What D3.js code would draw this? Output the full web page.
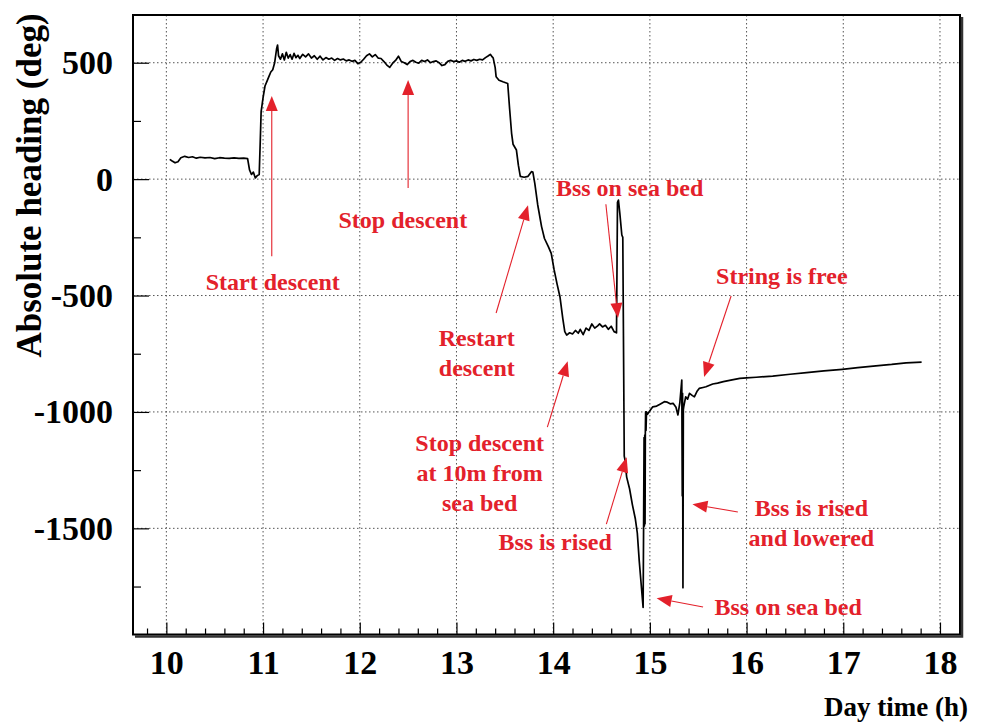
<!DOCTYPE html>
<html>
<head>
<meta charset="utf-8">
<script src="https://cdn.jsdelivr.net/npm/d3@7"></script>
<style>
  html, body { margin: 0; padding: 0; background: #fff; }
  svg { display: block; }
</style>
</head>
<body>
<svg id="chart" width="986" height="726"></svg>
<script>
// Heading record, [hour, heading in degrees], split by deployment phase
const surfaceHold = [[10.035,85],[10.06,78],[10.09,70],[10.12,75],[10.15,92],[10.19,98],[10.23,93],[10.27,96],[10.31,90],[10.35,94],[10.40,91],[10.45,93],[10.50,88],[10.55,92],[10.60,90],[10.65,89],[10.70,91],[10.75,89],[10.80,90],[10.84,88],[10.86,40],[10.88,20],[10.90,30],[10.92,5],[10.94,15],[10.96,20]];
const firstDescent = [[10.97,150],[10.98,290],[11.00,350],[11.02,400],[11.04,420],[11.06,440],[11.08,460],[11.10,470],[11.12,500],[11.14,560],[11.15,576],[11.16,530]];
const plateau = [[11.18,515],[11.20,538],[11.22,512],[11.24,545],[11.26,520],[11.28,535],[11.30,515],[11.32,540],[11.34,522],[11.36,532],[11.38,518],[11.41,536],[11.44,525],[11.47,538],[11.50,520],[11.53,530],[11.56,515],[11.59,528],[11.62,512],[11.65,522],[11.68,515],[11.71,520],[11.74,510],[11.77,518],[11.80,512],[11.83,516],[11.86,508],[11.89,512],[11.92,506],[11.95,510],[11.98,496],[12.01,502],[12.04,515],[12.07,530],[12.10,538],[12.13,525],[12.16,535],[12.19,520],[12.22,518],[12.25,505],[12.28,490],[12.31,480],[12.34,498],[12.37,510],[12.40,528],[12.43,505],[12.46,500],[12.49,492],[12.52,505],[12.55,510],[12.58,502],[12.61,498],[12.64,510],[12.67,505],[12.70,512],[12.73,500],[12.76,505],[12.79,508],[12.82,500],[12.85,488],[12.88,492],[12.91,506],[12.94,510],[12.97,505],[13.00,508],[13.03,502],[13.06,510],[13.09,506],[13.12,512],[13.15,508],[13.18,514],[13.21,510],[13.24,515],[13.27,512],[13.30,522],[13.33,530],[13.35,536],[13.37,525],[13.38,520]];
const secondDescent = [[13.40,480],[13.41,440],[13.44,425],[13.48,418],[13.53,411],[13.55,300],[13.57,197],[13.585,150],[13.62,125],[13.64,60],[13.66,12],[13.70,8],[13.74,12],[13.775,32],[13.79,30],[13.81,-18],[13.84,-110],[13.88,-204],[13.91,-255],[13.95,-290],[13.98,-319],[14.01,-390],[14.04,-450],[14.07,-505],[14.10,-600],[14.12,-655]];
const hold10m = [[14.14,-670],[14.17,-660],[14.20,-665],[14.23,-650],[14.26,-662],[14.28,-645],[14.31,-668],[14.34,-640],[14.37,-650],[14.40,-622],[14.43,-640],[14.46,-630],[14.48,-622],[14.51,-635],[14.54,-628],[14.57,-645],[14.60,-632],[14.63,-655],[14.655,-660]];
const seabedAndRise = [[14.665,-100],[14.675,-90],[14.69,-150],[14.71,-240],[14.72,-250],[14.735,-1190],[14.74,-1200],[14.76,-1280],[14.79,-1330],[14.82,-1400],[14.85,-1460],[14.87,-1520],[14.89,-1640],[14.91,-1740],[14.93,-1840],[14.935,-1500],[14.94,-1110],[14.943,-1490],[14.947,-1100],[14.95,-1480],[14.953,-1090],[14.956,-1000],[14.96,-1080],[14.965,-1000],[14.975,-1010]];
const settled = [[15.0,-995],[15.03,-978],[15.07,-975],[15.10,-968],[15.15,-956],[15.18,-958],[15.21,-965],[15.24,-963],[15.27,-980],[15.29,-1013],[15.31,-960],[15.33,-863],[15.335,-1360],[15.338,-920],[15.342,-1755],[15.346,-990],[15.35,-978],[15.37,-935],[15.39,-945],[15.41,-920],[15.44,-930],[15.46,-935],[15.49,-910],[15.51,-899],[15.55,-895],[15.58,-892],[15.65,-880],[15.70,-876],[15.76,-870],[15.85,-862],[15.93,-856],[16.0,-854],[16.1,-851],[16.27,-846],[16.45,-838],[16.62,-831],[16.8,-824],[16.99,-817],[17.15,-810],[17.31,-803],[17.5,-796],[17.65,-789],[17.81,-786]];

const xTicks = [10, 11, 12, 13, 14, 15, 16, 17, 18];
const yTicks = [-1500, -1000, -500, 0, 500];

// Event annotations: text lines, label centre, arrow tail and tip (hour, deg)
const notes = [
  { lines: ["Start descent"], at: [11.10, -442], from: [11.09, -331], to: [11.09, 357] },
  { lines: ["Stop descent"], at: [12.445, -176], from: [12.50, -38], to: [12.50, 426] },
  { lines: ["Restart", "descent"], at: [13.21, -683], from: [13.41, -575], to: [13.74, -112] },
  { lines: ["Bss on sea bed"], at: [14.79, -38], from: [14.545, -108], to: [14.67, -597] },
  { lines: ["String is free"], at: [16.365, -416], from: [15.84, -502], to: [15.56, -850] },
  { lines: ["Stop descent", "at 10m from", "sea bed"], at: [13.24, -1134], from: [13.94, -1065], to: [14.15, -782] },
  { lines: ["Bss is rised"], at: [14.02, -1559], from: [14.55, -1482], to: [14.76, -1195] },
  { lines: ["Bss is rised", "and lowered"], at: [16.67, -1413], from: [15.91, -1430], to: [15.44, -1396] },
  { lines: ["Bss on sea bed"], at: [16.43, -1838], from: [15.55, -1838], to: [15.07, -1800] }
];

const record = [].concat(surfaceHold, firstDescent, plateau, secondDescent, hold10m, seabedAndRise, settled);

const svg = d3.select("#chart");
const frame = { left: 133, top: 15, right: 960, bottom: 634.5 };
const serif = "'Liberation Serif', 'Times New Roman', serif";
const red = "#e3212b";

const x = d3.scaleLinear().domain([9.655, 18.207]).range([frame.left, frame.right]);
const y = d3.scaleLinear().domain([-1956, 705]).range([frame.bottom, frame.top]);

// dotted grid at the major ticks
const grid = svg.append("g").attr("stroke", "#555").attr("stroke-width", 1).attr("stroke-dasharray", "1.5,2.5");
grid.selectAll(".vg").data(xTicks).join("line")
  .attr("x1", d => x(d)).attr("x2", d => x(d))
  .attr("y1", frame.top).attr("y2", frame.bottom);
grid.selectAll(".hg").data(yTicks).join("line")
  .attr("x1", frame.left).attr("x2", frame.right)
  .attr("y1", d => y(d)).attr("y2", d => y(d));

// axes: ticks point inward, no domain line (the frame is drawn below)
const xMinor = d3.range(9.8, 18.21, 0.2).map(v => +v.toFixed(1)).filter(v => !xTicks.includes(v));
const yMinor = d3.range(-1750, 700, 250).filter(v => !yTicks.includes(v));
const plain = d => String(d);

function styleAxis(g) {
  g.select(".domain").remove();
  g.selectAll("line").attr("stroke", "#000").attr("stroke-width", 1.2);
  g.selectAll("text").attr("font-family", serif).attr("font-weight", "bold")
    .attr("font-size", 34).attr("fill", "#000");
}

svg.append("g").attr("transform", `translate(0,${frame.bottom})`)
  .call(d3.axisBottom(x).tickValues(xTicks).tickSize(-12).tickPadding(15.5).tickFormat(plain))
  .call(styleAxis);
svg.append("g").attr("transform", `translate(0,${frame.bottom})`)
  .call(d3.axisBottom(x).tickValues(xMinor).tickSize(-6).tickFormat(""))
  .call(styleAxis);
svg.append("g").attr("transform", `translate(${frame.left},0)`)
  .call(d3.axisLeft(y).tickValues(yTicks).tickSize(-16).tickPadding(20).tickFormat(plain))
  .call(styleAxis);
svg.append("g").attr("transform", `translate(${frame.left},0)`)
  .call(d3.axisLeft(y).tickValues(yMinor).tickSize(-8).tickFormat(""))
  .call(styleAxis);

// heading trace
svg.append("path")
  .datum(record)
  .attr("fill", "none")
  .attr("stroke", "#000")
  .attr("stroke-width", 1.7)
  .attr("stroke-linejoin", "round")
  .attr("d", d3.line().x(d => x(d[0])).y(d => y(d[1])));

// frame with a heavier lower-right edge
svg.append("rect")
  .attr("x", frame.left).attr("y", frame.top)
  .attr("width", frame.right - frame.left).attr("height", frame.bottom - frame.top)
  .attr("fill", "none").attr("stroke", "#000").attr("stroke-width", 2);
svg.append("path")
  .attr("d", `M${frame.right + 2},${frame.top + 2}V${frame.bottom + 2}H${frame.left + 2}`)
  .attr("fill", "none").attr("stroke", "#333").attr("stroke-width", 2.5);

// axis titles
svg.append("text")
  .attr("transform", `translate(41,${(frame.top + 360) / 2 - 2}) rotate(-90)`)
  .attr("text-anchor", "middle")
  .attr("font-family", serif).attr("font-weight", "bold").attr("font-size", 35)
  .text("Absolute heading (deg)");
svg.append("text")
  .attr("x", 968).attr("y", 716)
  .attr("text-anchor", "end")
  .attr("font-family", serif).attr("font-weight", "bold").attr("font-size", 27)
  .text("Day time (h)");

// annotations with arrows
const ann = svg.append("g");
const lineGap = 30;
notes.forEach(n => {
  const [x1, y1] = [x(n.from[0]), y(n.from[1])];
  const [x2, y2] = [x(n.to[0]), y(n.to[1])];
  const ang = Math.atan2(y2 - y1, x2 - x1);
  const headLen = 15, headHalf = 6;
  const bx = x2 - headLen * Math.cos(ang), by = y2 - headLen * Math.sin(ang);
  ann.append("line")
    .attr("x1", x1).attr("y1", y1).attr("x2", bx).attr("y2", by)
    .attr("stroke", red).attr("stroke-width", 1.1);
  const px = -Math.sin(ang) * headHalf, py = Math.cos(ang) * headHalf;
  ann.append("path")
    .attr("d", `M${x2},${y2}L${bx + px},${by + py}L${bx - px},${by - py}Z`)
    .attr("fill", red);
  const t = ann.append("text")
    .attr("text-anchor", "middle")
    .attr("font-family", serif).attr("font-weight", "bold").attr("font-size", 24)
    .attr("fill", red);
  n.lines.forEach((s, i) => {
    t.append("tspan")
      .attr("x", x(n.at[0]))
      .attr("y", y(n.at[1]) + 8 + i * lineGap)
      .text(s);
  });
});
</script>
</body>
</html>
